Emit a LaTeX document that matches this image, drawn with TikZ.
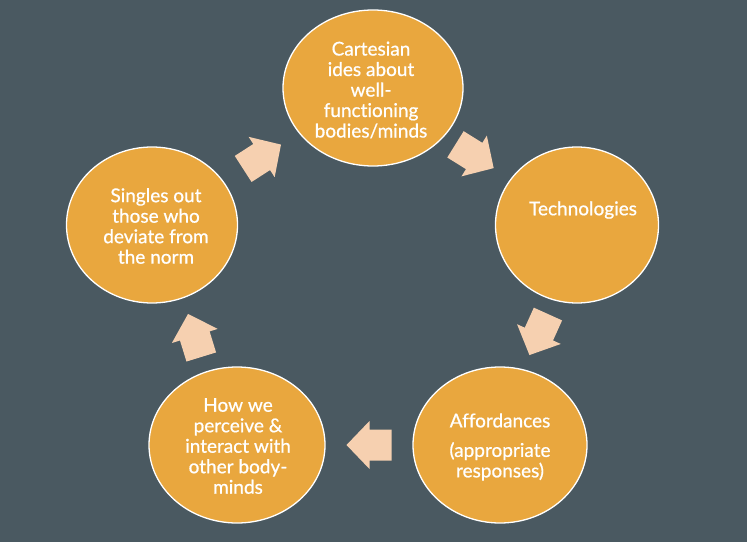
\documentclass[tikz,border=0pt]{standalone}
\usepackage{fontspec}
\setmainfont{Lato}
\newfontfamily\lblfont{Lato}[FakeBold=0.7,Ligatures=NoCommon]
\usetikzlibrary{shapes.geometric,calc}
\definecolor{bg}{RGB}{74,89,97}
\definecolor{orng}{RGB}{233,167,62}
\definecolor{peach}{RGB}{246,208,176}
\newcommand\flowarrow[3]{%
  \path let \p1=(#1.center), \p2=(#2.center), \n1={atan2(\y2-\y1,\x2-\x1)+#3} in
    ($(\p1)!0.5!(\p2)$) pic[rotate=\n1] {blockarrow};}
\begin{document}
\begin{tikzpicture}[x=1pt,y=1pt,
  cyc/.style={ellipse, draw=white, line width=1.3pt, fill=orng, inner sep=0pt, minimum height=156},
  lbl/.style={text=white, align=center, inner sep=0pt, font=\lblfont\fontsize{19}{20.5}\selectfont},
  blockarrow/.pic={\fill[peach] (-23,-15.5) -- (-1,-15.5) -- (-1,-24) -- (22,0) -- (-1,24) -- (-1,15.5) -- (-23,15.5) -- cycle;}]
\fill[bg] (0,0) rectangle (747,542);
\useasboundingbox (0,0) rectangle (747,542);
\node[cyc, minimum width=180] (c1) at (373,454) {};
\node[cyc, minimum width=163] (c2) at (577,317) {};
\node[cyc, minimum width=174] (c3) at (500,97) {};
\node[cyc, minimum width=176] (c4) at (237,97) {};
\node[cyc, minimum width=171] (c5) at (152,317) {};
\node[lbl] (t1) at ([xshift=-2pt,yshift=-2pt]c1.center) {Cartesian\\ides about\\well-\\functioning\\bodies/minds};
\node[lbl] (t2) at ([xshift=6pt,yshift=15pt]c2.center) {Technologies};
\node[lbl] (t3) at ([yshift=-2pt]c3.center) {Affordances\\[9pt](appropriate\\responses)};
\node[lbl] (t4) at ([xshift=1pt,yshift=-1pt]c4.center) {How we\\perceive \&\\interact with\\other body-\\minds};
\node[lbl] (t5) at ([xshift=4pt,yshift=-1pt]c5.center) {Singles out\\those who\\deviate from\\the norm};
\flowarrow{c1}{c2}{2}
\flowarrow{c2}{c3}{-5}
\flowarrow{c3}{c4}{0}
\flowarrow{c4}{c5}{-4}
\flowarrow{c5}{c1}{1}
\end{tikzpicture}
\end{document}
